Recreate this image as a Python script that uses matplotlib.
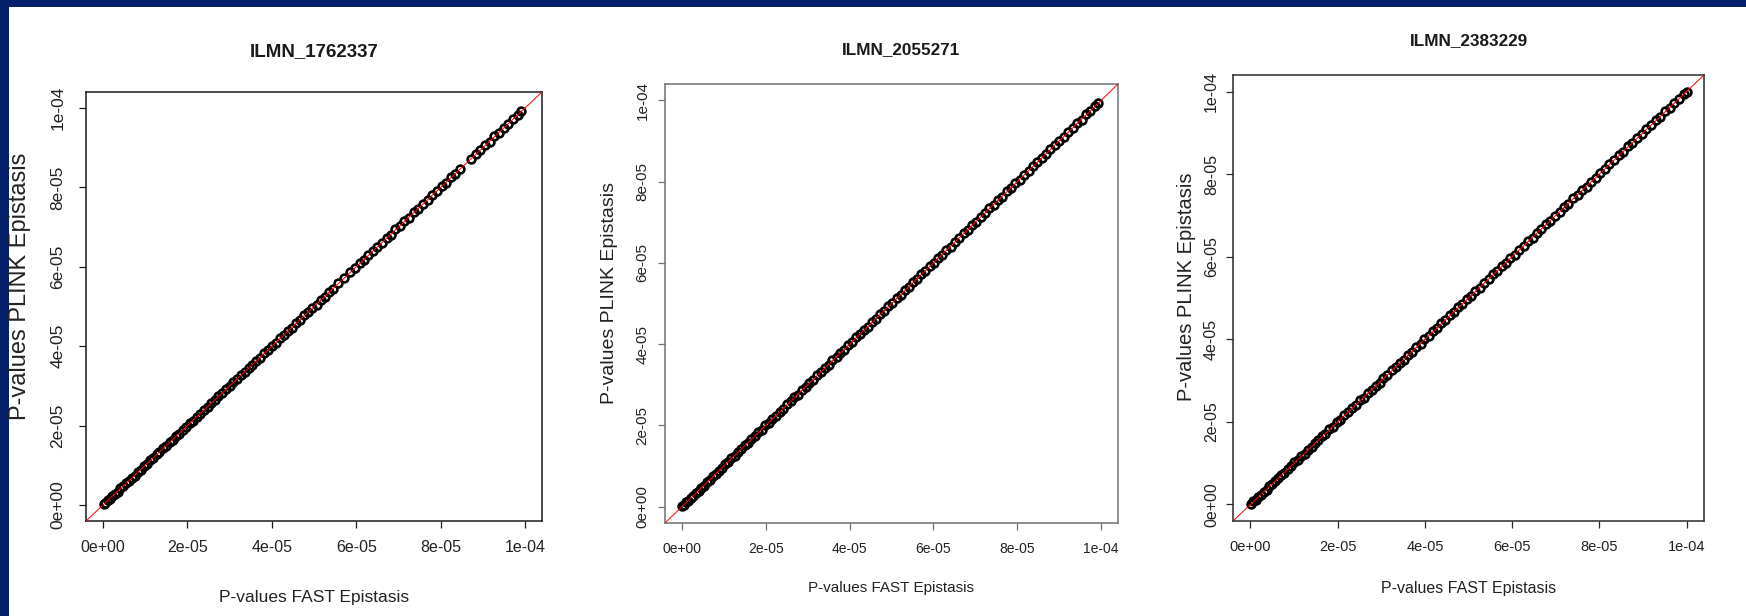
# FAST vs PLINK epistasis p-values, three probes side by side (R-style scatter + y=x line)

import numpy as np
import matplotlib.pyplot as plt
from matplotlib.patches import Rectangle

plt.rcParams['font.family'] = ['Liberation Sans', 'DejaVu Sans']

titles = ['ILMN_1762337', 'ILMN_2055271', 'ILMN_2383229']
xlabel = 'P-values FAST Epistasis'
ylabel = 'P-values PLINK Epistasis'
tick_vals = [0, 2e-05, 4e-05, 6e-05, 8e-05, 1e-04]
tick_labels = ['0e+00', '2e-05', '4e-05', '6e-05', '8e-05', '1e-04']

# p-values, in units of 1e-5
fast_1 = [0.02, 0.06, 0.11, 0.17, 0.22, 0.28, 0.35, 0.41, 0.48, 0.55, 0.61, 0.68, 0.75, 0.82, 0.90,
          0.97, 1.04, 1.12, 1.19, 1.27, 1.34, 1.42, 1.50, 1.58, 1.65, 1.73, 1.81, 1.89, 1.98, 2.06,
          2.14, 2.22, 2.31, 2.39, 2.48, 2.56, 2.65, 2.73, 2.82, 2.91, 3.00, 3.09, 3.18, 3.27, 3.36,
          3.45, 3.54, 3.63, 3.72, 3.82, 3.91, 4.00, 4.10, 4.19, 4.29, 4.38, 4.48, 4.57, 4.67, 4.77,
          4.86, 4.96, 5.06, 5.16, 5.26, 5.36, 5.46, 5.57, 5.72, 5.85, 5.97, 6.08, 6.19, 6.29, 6.40,
          6.50, 6.61, 6.72, 6.82, 6.93, 7.04, 7.14, 7.25, 7.36, 7.47, 7.58, 7.69, 7.80, 7.91, 8.02,
          8.13, 8.24, 8.35, 8.46, 8.72, 8.83, 8.94, 9.05, 9.16, 9.27, 9.38, 9.49, 9.60, 9.71, 9.82, 9.91]
plink_1 = [0.03, 0.05, 0.12, 0.16, 0.23, 0.29, 0.34, 0.42, 0.47, 0.56, 0.60, 0.69, 0.74, 0.83, 0.89,
           0.98, 1.03, 1.13, 1.18, 1.28, 1.33, 1.43, 1.49, 1.59, 1.64, 1.74, 1.80, 1.90, 1.97, 2.07,
           2.13, 2.23, 2.30, 2.40, 2.47, 2.57, 2.64, 2.74, 2.81, 2.92, 2.99, 3.10, 3.17, 3.28, 3.35,
           3.46, 3.53, 3.64, 3.71, 3.83, 3.90, 4.01, 4.09, 4.20, 4.28, 4.39, 4.47, 4.58, 4.66, 4.78,
           4.85, 4.97, 5.05, 5.17, 5.25, 5.37, 5.45, 5.58, 5.71, 5.86, 5.96, 6.09, 6.18, 6.30, 6.39,
           6.51, 6.60, 6.73, 6.81, 6.94, 7.03, 7.15, 7.24, 7.37, 7.46, 7.59, 7.68, 7.81, 7.90, 8.03,
           8.12, 8.25, 8.34, 8.47, 8.71, 8.84, 8.93, 9.06, 9.15, 9.28, 9.37, 9.50, 9.59, 9.72, 9.81, 9.92]

fast_2 = [0.01, 0.05, 0.10, 0.15, 0.21, 0.27, 0.33, 0.40, 0.46, 0.53, 0.60, 0.67, 0.74, 0.81, 0.88,
          0.96, 1.03, 1.11, 1.18, 1.26, 1.34, 1.42, 1.50, 1.58, 1.66, 1.74, 1.82, 1.91, 1.99, 2.08,
          2.16, 2.25, 2.33, 2.42, 2.51, 2.60, 2.68, 2.77, 2.86, 2.95, 3.04, 3.13, 3.22, 3.32, 3.41,
          3.50, 3.59, 3.69, 3.78, 3.87, 3.97, 4.06, 4.16, 4.25, 4.35, 4.44, 4.54, 4.63, 4.73, 4.83,
          4.92, 5.02, 5.12, 5.22, 5.32, 5.41, 5.51, 5.61, 5.71, 5.81, 5.91, 6.01, 6.11, 6.21, 6.31,
          6.41, 6.51, 6.62, 6.72, 6.82, 6.92, 7.02, 7.13, 7.23, 7.33, 7.44, 7.54, 7.64, 7.75, 7.85,
          7.95, 8.06, 8.16, 8.27, 8.37, 8.48, 8.58, 8.69, 8.79, 8.90, 9.00, 9.11, 9.21, 9.32, 9.43,
          9.53, 9.64, 9.74, 9.85, 9.93]
plink_2 = [0.02, 0.04, 0.11, 0.14, 0.22, 0.26, 0.34, 0.39, 0.47, 0.52, 0.61, 0.66, 0.75, 0.80, 0.89,
           0.95, 1.04, 1.10, 1.19, 1.25, 1.35, 1.41, 1.51, 1.57, 1.67, 1.73, 1.83, 1.90, 2.00, 2.07,
           2.17, 2.24, 2.34, 2.41, 2.52, 2.59, 2.69, 2.76, 2.87, 2.94, 3.05, 3.12, 3.23, 3.31, 3.42,
           3.49, 3.60, 3.68, 3.79, 3.86, 3.98, 4.05, 4.17, 4.24, 4.36, 4.43, 4.55, 4.62, 4.74, 4.82,
           4.93, 5.01, 5.13, 5.21, 5.33, 5.40, 5.52, 5.60, 5.72, 5.80, 5.92, 6.00, 6.12, 6.20, 6.32,
           6.40, 6.52, 6.61, 6.73, 6.81, 6.93, 7.01, 7.14, 7.22, 7.34, 7.43, 7.55, 7.63, 7.76, 7.84,
           7.96, 8.05, 8.17, 8.26, 8.38, 8.47, 8.59, 8.68, 8.80, 8.89, 9.01, 9.10, 9.22, 9.31, 9.44,
           9.52, 9.65, 9.73, 9.86, 9.94]

fast_3 = [0.02, 0.07, 0.12, 0.18, 0.24, 0.30, 0.37, 0.43, 0.50, 0.57, 0.64, 0.71, 0.78, 0.86, 0.93,
          1.01, 1.08, 1.16, 1.24, 1.32, 1.40, 1.48, 1.56, 1.64, 1.72, 1.81, 1.89, 1.98, 2.06, 2.15,
          2.24, 2.33, 2.42, 2.51, 2.60, 2.69, 2.78, 2.87, 2.96, 3.05, 3.14, 3.24, 3.33, 3.42, 3.52,
          3.61, 3.71, 3.80, 3.90, 3.99, 4.09, 4.18, 4.28, 4.38, 4.47, 4.57, 4.67, 4.77, 4.86, 4.96,
          5.06, 5.16, 5.26, 5.36, 5.46, 5.56, 5.66, 5.76, 5.86, 5.96, 6.06, 6.16, 6.27, 6.37, 6.47,
          6.57, 6.67, 6.78, 6.88, 6.98, 7.09, 7.19, 7.29, 7.40, 7.50, 7.61, 7.71, 7.81, 7.92, 8.02,
          8.13, 8.23, 8.34, 8.45, 8.55, 8.66, 8.76, 8.87, 8.98, 9.08, 9.19, 9.30, 9.40, 9.51, 9.62,
          9.72, 9.83, 9.94, 10.0]
plink_3 = [0.01, 0.08, 0.11, 0.19, 0.23, 0.31, 0.36, 0.44, 0.49, 0.58, 0.63, 0.72, 0.77, 0.87, 0.92,
           1.02, 1.07, 1.17, 1.23, 1.33, 1.39, 1.49, 1.55, 1.65, 1.71, 1.82, 1.88, 1.99, 2.05, 2.16,
           2.23, 2.34, 2.41, 2.52, 2.59, 2.70, 2.77, 2.88, 2.95, 3.06, 3.13, 3.25, 3.32, 3.43, 3.51,
           3.62, 3.70, 3.81, 3.89, 4.00, 4.08, 4.19, 4.27, 4.39, 4.46, 4.58, 4.66, 4.78, 4.85, 4.97,
           5.05, 5.17, 5.25, 5.37, 5.45, 5.57, 5.65, 5.77, 5.85, 5.97, 6.05, 6.17, 6.26, 6.38, 6.46,
           6.58, 6.66, 6.79, 6.87, 6.99, 7.08, 7.20, 7.28, 7.41, 7.49, 7.62, 7.70, 7.82, 7.91, 8.03,
           8.12, 8.24, 8.33, 8.46, 8.54, 8.67, 8.75, 8.88, 8.97, 9.09, 9.18, 9.31, 9.39, 9.52, 9.61,
           9.73, 9.82, 9.95, 9.99]

W, H = 1746, 616
fig = plt.figure(figsize=(W / 100, H / 100), dpi=100)
fig.patch.set_facecolor('#04206a')
fig.patches.append(Rectangle((9 / W, 0), 1, 1 - 7 / H, transform=fig.transFigure,
                             facecolor='white', edgecolor='none', zorder=-10))

# panel boxes in pixels: left, right, top, bottom
boxes = [(86, 542, 92, 521), (665, 1118, 84, 523), (1233, 1704, 75, 521)]
spine_col = ['#1a1a1a', '#707070', '#2a2a2a']
xtick_fs = [11.5, 10, 10.5]
ytick_fs = [12.5, 11, 11.5]
ytick_pad = [10, 6, 5]
xlab_fs = [12.5, 11, 11.5]
ylab_fs = [17, 14, 14.5]
title_fs = [13.5, 12.3, 12.3]
title_xc = [0.5, 0.52, 0.5]
ylab_x = [20, 609, 1186]      # centre of y label, px
ylab_yc = [0.548, 0.525, 0.525]
xlab_y = [590, 581, 581]      # centre of x label, px
title_y = [52, 50, 41]

data = [(fast_1, plink_1), (fast_2, plink_2), (fast_3, plink_3)]

for i in range(3):
    l, r, t, b = boxes[i]
    ax = fig.add_axes([l / W, (H - b) / H, (r - l) / W, (b - t) / H])
    ax.set_zorder(1)
    x = np.array(data[i][0]) * 1e-5
    y = np.array(data[i][1]) * 1e-5
    ax.plot(x, y, 'o', ms=5.6, mfc='none', mec='black', mew=1.9, zorder=2)
    ax.axline((0, 0), slope=1, color='red', lw=0.7, zorder=3)
    ax.set_xlim(-4e-6, 1.04e-4)
    ax.set_ylim(-4e-6, 1.04e-4)
    ax.set_xticks(tick_vals)
    ax.set_xticklabels(tick_labels)
    ax.set_yticks(tick_vals)
    ax.set_yticklabels(tick_labels, rotation=90, va='center')
    ax.tick_params(length=5, width=0.9, colors=spine_col[i], labelcolor='#222222')
    ax.tick_params(axis='x', pad=9, labelsize=xtick_fs[i])
    ax.tick_params(axis='y', pad=ytick_pad[i], labelsize=ytick_fs[i])
    for s in ax.spines.values():
        s.set_color(spine_col[i])
        s.set_linewidth(1.1)
    ax.set_xlabel(xlabel, fontsize=xlab_fs[i], color='#222222')
    ax.xaxis.set_label_coords(0.5, (b - xlab_y[i]) / (b - t))
    ax.set_ylabel(ylabel, fontsize=ylab_fs[i], color='#222222', va='center')
    ax.yaxis.set_label_coords((ylab_x[i] - l) / (r - l), ylab_yc[i])
    ax.text(title_xc[i], (b - title_y[i]) / (b - t), titles[i], transform=ax.transAxes,
            ha='center', va='center', fontsize=title_fs[i], fontweight='bold', color='#1a1a1a')

fig.savefig('out.png', dpi=100)
